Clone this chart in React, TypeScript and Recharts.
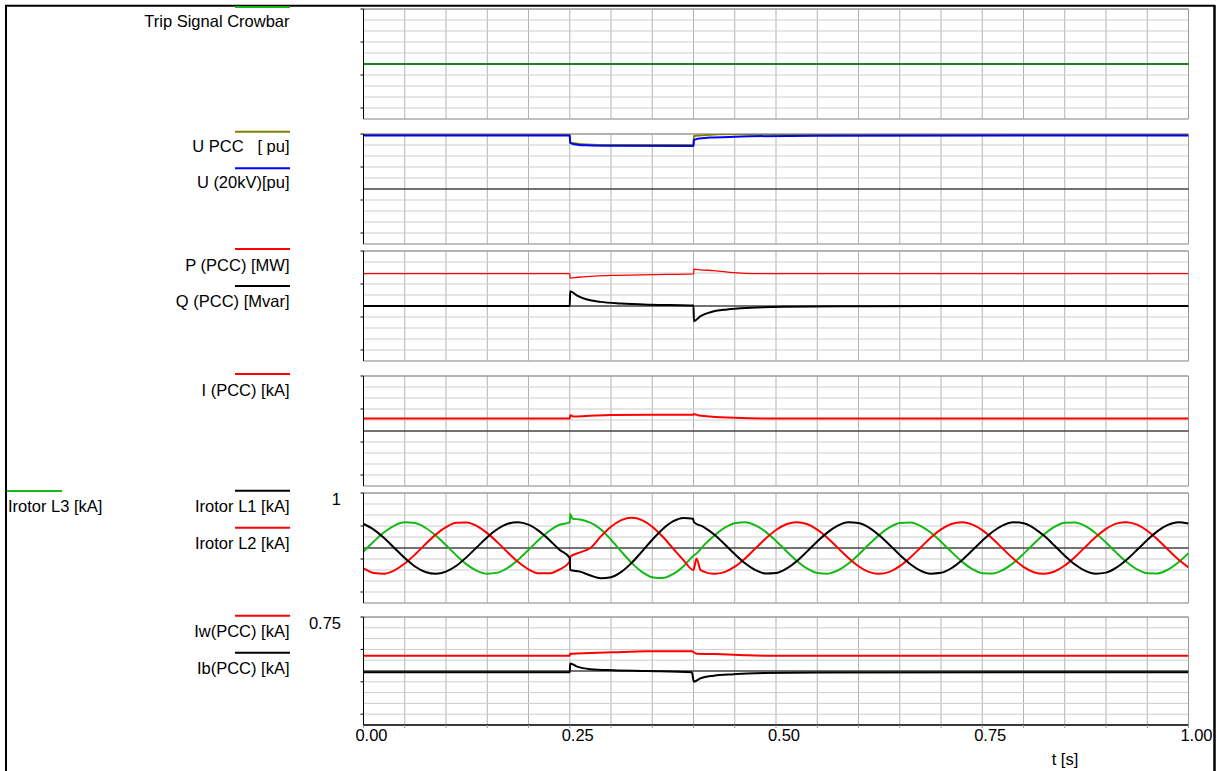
import React from "react";
import { LineChart, Line, XAxis, YAxis, CartesianGrid, ReferenceLine } from "recharts";

const FONT = "'Liberation Sans', Arial, sans-serif";

// time axis
const X_TICKS = [0, 0.05, 0.1, 0.15, 0.2, 0.25, 0.3, 0.35, 0.4, 0.45, 0.5, 0.55, 0.6, 0.65, 0.7, 0.75, 0.8, 0.85, 0.9, 0.95, 1];
const X_LABELS = [0, 0.25, 0.5, 0.75, 1];

// crowbar trip
const TRIP: [number, number][] = [[0, 0], [1, 0]];

// voltages [pu]
const U_PCC: [number, number][] = [
  [0, 1.0], [0.25, 1.0], [0.2505, 0.85], [0.255, 0.83], [0.27, 0.81], [0.3, 0.8], [0.4, 0.8],
  [0.4005, 0.96], [0.41, 0.975], [0.43, 0.995], [0.45, 1.0], [1, 1.0],
];
const U_20KV: [number, number][] = [
  [0, 0.975], [0.25, 0.975], [0.2505, 0.84], [0.255, 0.815], [0.27, 0.795], [0.3, 0.785], [0.4, 0.78],
  [0.4005, 0.89], [0.405, 0.915], [0.42, 0.935], [0.45, 0.95], [0.55, 0.97], [1, 0.975],
];

// power at PCC
const P_PCC: [number, number][] = [
  [0, 2.35], [0.25, 2.35], [0.2505, 2.03], [0.26, 2.09], [0.3, 2.22], [0.35, 2.28], [0.4, 2.33],
  [0.4005, 2.68], [0.4085, 2.63], [0.4246, 2.58], [0.449, 2.43], [0.473, 2.36], [0.5, 2.35], [1, 2.35],
];
const Q_PCC: [number, number][] = [
  [0, 0], [0.25, 0], [0.2505, 1.07], [0.259, 0.76], [0.271, 0.47], [0.287, 0.3], [0.3115, 0.18],
  [0.348, 0.09], [0.395, 0.04], [0.4, 0.03], [0.4005, -1.1], [0.4085, -0.73], [0.4206, -0.45],
  [0.4408, -0.25], [0.469, -0.13], [0.509, -0.06], [0.6, -0.02], [0.7, 0], [1, 0],
];

// current at PCC
const I_PCC: [number, number][] = [
  [0, 0.057], [0.25, 0.057], [0.2505, 0.072], [0.255, 0.066], [0.27, 0.068], [0.3, 0.073], [0.35, 0.074],
  [0.4, 0.074], [0.4005, 0.077], [0.405, 0.072], [0.42, 0.066], [0.45, 0.06], [0.5, 0.057], [1, 0.057],
];

// rotor currents
const PRE_T = [0, 0.0125, 0.025, 0.0375, 0.05, 0.0625, 0.075, 0.0875, 0.1, 0.1125, 0.125, 0.1375, 0.15, 0.1625, 0.175, 0.1875, 0.2, 0.2125, 0.225, 0.2375, 0.25];
const L1_PRE = [0.436, 0.334, 0.18, -0.001, -0.183, -0.336, -0.437, -0.47, -0.43, -0.323, -0.166, 0.016, 0.197, 0.346, 0.442, 0.469, 0.424, 0.312, 0.152, -0.031, -0.18];
const L2_PRE = [-0.37, -0.453, -0.466, -0.406, -0.283, -0.117, 0.068, 0.243, 0.379, 0.457, 0.464, 0.399, 0.271, 0.102, -0.083, -0.255, -0.388, -0.46, -0.461, -0.39, -0.25];
const L3_PRE = [-0.065, 0.12, 0.286, 0.408, 0.466, 0.453, 0.368, 0.227, 0.051, -0.134, -0.298, -0.415, -0.468, -0.448, -0.359, -0.214, -0.036, 0.148, 0.309, 0.422, 0.465];

const L1_FAULT: [number, number][] = [
  [0.2505, -0.4], [0.2625, -0.43], [0.275, -0.5], [0.2875, -0.55], [0.3, -0.53], [0.3125, -0.433], [0.325, -0.27],
  [0.3375, -0.065], [0.35, 0.15], [0.3625, 0.342], [0.375, 0.482], [0.3875, 0.547], [0.3995, 0.53], [0.4005, 0.47],
];
const L2_FAULT: [number, number][] = [
  [0.2505, -0.16], [0.2625, -0.08], [0.275, 0.0], [0.2875, 0.208], [0.3, 0.388], [0.3125, 0.508], [0.325, 0.55],
  [0.3375, 0.508], [0.35, 0.388], [0.3625, 0.208], [0.375, -0.005], [0.3875, -0.216], [0.4, -0.4], [0.4036, -0.19], [0.4085, -0.4],
];
const L3_FAULT: [number, number][] = [
  [0.2505, 0.62], [0.2535, 0.53], [0.2625, 0.52], [0.275, 0.46], [0.2875, 0.342], [0.3, 0.15], [0.3125, -0.065],
  [0.325, -0.27], [0.3375, -0.433], [0.35, -0.53], [0.3625, -0.546], [0.375, -0.477], [0.3875, -0.335], [0.4, -0.141], [0.4036, -0.1],
];

const POST_T = [0.4125, 0.425, 0.4375, 0.45, 0.4625, 0.475, 0.4875, 0.5, 0.5125, 0.525, 0.5375, 0.55, 0.5625, 0.575, 0.5875, 0.6, 0.6125, 0.625, 0.6375, 0.65, 0.6625, 0.675, 0.6875, 0.7, 0.7125, 0.725, 0.7375, 0.75, 0.7625, 0.775, 0.7875, 0.8, 0.8125, 0.825, 0.8375, 0.85, 0.8625, 0.875, 0.8875, 0.9, 0.9125, 0.925, 0.9375, 0.95, 0.9625, 0.975, 0.9875, 1.0];
const L1_POST = [0.381, 0.246, 0.073, -0.111, -0.278, -0.402, -0.465, -0.456, -0.377, -0.24, -0.066, 0.118, 0.284, 0.406, 0.466, 0.454, 0.372, 0.233, 0.059, -0.125, -0.29, -0.41, -0.467, -0.452, -0.368, -0.227, -0.051, 0.132, 0.295, 0.413, 0.468, 0.45, 0.363, 0.221, 0.044, -0.139, -0.301, -0.417, -0.468, -0.448, -0.358, -0.214, -0.037, 0.146, 0.307, 0.42, 0.469, 0.445];
const L2_POST = [-0.429, -0.47, -0.439, -0.34, -0.189, -0.009, 0.172, 0.327, 0.432, 0.47, 0.436, 0.335, 0.183, 0.002, -0.179, -0.332, -0.435, -0.47, -0.433, -0.33, -0.176, 0.005, 0.186, 0.338, 0.437, 0.47, 0.43, 0.324, 0.169, -0.013, -0.193, -0.343, -0.44, -0.47, -0.427, -0.319, -0.162, 0.02, 0.199, 0.348, 0.443, 0.469, 0.424, 0.314, 0.155, -0.028, -0.206, -0.353];
const L3_POST = [0.048, 0.224, 0.366, 0.451, 0.467, 0.412, 0.293, 0.129, -0.055, -0.23, -0.37, -0.453, -0.466, -0.408, -0.287, -0.122, 0.062, 0.237, 0.374, 0.455, 0.465, 0.404, 0.281, 0.115, -0.069, -0.243, -0.379, -0.457, -0.464, -0.4, -0.275, -0.107, 0.077, 0.249, 0.383, 0.458, 0.463, 0.397, 0.269, 0.1, -0.084, -0.255, -0.388, -0.46, -0.462, -0.393, -0.263, -0.093];

// active / reactive current at PCC
const IW_PCC: [number, number][] = [
  [0, 0.212], [0.25, 0.212], [0.2505, 0.24], [0.275, 0.25], [0.303, 0.26], [0.344, 0.273], [0.398, 0.273],
  [0.4035, 0.24], [0.424, 0.236], [0.449, 0.226], [0.465, 0.218], [0.5, 0.212], [1, 0.212],
];
const IB_PCC: [number, number][] = [
  [0, -0.018], [0.25, -0.018], [0.2505, 0.105], [0.259, 0.06], [0.275, 0.025], [0.303, 0.01], [0.344, 0.0],
  [0.398, -0.017], [0.4005, -0.15], [0.4085, -0.1], [0.4246, -0.065], [0.449, -0.045], [0.475, -0.03], [0.55, -0.02], [1, -0.018],
];

const zip = (t: number[], v: number[]): [number, number][] => t.map((x, i) => [x, v[i]]);
const L1 = [...zip(PRE_T, L1_PRE), ...L1_FAULT, ...zip(POST_T, L1_POST)];
const L2 = [...zip(PRE_T, L2_PRE), ...L2_FAULT, ...zip(POST_T, L2_POST)];
const L3 = [...zip(PRE_T, L3_PRE), ...L3_FAULT, ...zip(POST_T, L3_POST)];

const GREEN = "#16b816";
const RED = "#ff0000";
const OLIVE = "#808000";
const BLUE = "#0000ff";

type Series = { pts: [number, number][]; color: string; width: number };

const PLOT_L = 363.5;
const PLOT_R = 1188.5;
const YW = 30;
const M = 6;
const FS = 16.5;

function Panel({ top, h, lo, hi, yLabel, series, xAxis }: { top: number; h: number; lo: number; hi: number; yLabel?: string; series: Series[]; xAxis?: boolean }) {
  const yTicks = Array.from({ length: 11 }, (_, i) => lo + ((hi - lo) * i) / 10);
  const chartH = h + M + (xAxis ? 40 : M);
  const YTick = (p: any) => {
    if (!yLabel || Math.abs(p.payload.value - hi) > 1e-9) return <g />;
    return (
      <text x={341} y={M + 11.5} textAnchor="end" fontSize={FS} fontFamily={FONT} fill="#000">
        {yLabel}
      </text>
    );
  };
  const XTick = (p: any) => {
    const v = p.payload.value;
    if (!X_LABELS.some((l) => Math.abs(l - v) < 1e-9)) return <g />;
    return (
      <text x={p.x + 8} y={M + h + 15.5} textAnchor="middle" fontSize={FS} fontFamily={FONT} fill="#000">
        {v.toFixed(2)}
      </text>
    );
  };
  return (
    <div style={{ position: "absolute", left: 0, top: top - M }}>
      <LineChart width={1223} height={chartH} margin={{ top: M, right: 1223 - PLOT_R, bottom: xAxis ? 10 : M, left: PLOT_L - YW }}>
        <CartesianGrid horizontal={false} stroke="#b3b3b3" />
        <XAxis
          type="number"
          dataKey="t"
          domain={[0, 1]}
          ticks={X_TICKS}
          hide={!xAxis}
          height={xAxis ? 30 : 0}
          axisLine={{ stroke: "#000" }}
          tickLine={{ stroke: "#999" }}
          tickSize={3}
          tick={XTick}
          allowDataOverflow
        />
        <YAxis
          type="number"
          domain={[lo, hi]}
          ticks={yTicks}
          width={YW}
          axisLine={{ stroke: "#000" }}
          tickLine={{ stroke: "#000" }}
          tickSize={3}
          tick={YTick}
          allowDataOverflow
        />
        {yTicks.map((v, i) => (
          <ReferenceLine key={`g${i}`} y={v} stroke="#cdcdcd" />
        ))}
        <ReferenceLine y={hi} stroke="#808080" />
        <ReferenceLine y={lo} stroke={xAxis ? "#000" : "#9a9a9a"} />
        <ReferenceLine x={1} stroke="#9a9a9a" />
        <ReferenceLine y={0} stroke="#000" />
        {series.map((s, i) => (
          <Line
            key={i}
            data={s.pts.map(([t, v]) => ({ t, v }))}
            dataKey="v"
            type="monotone"
            stroke={s.color}
            strokeWidth={s.width}
            dot={false}
            activeDot={false}
            isAnimationActive={false}
          />
        ))}
      </LineChart>
    </div>
  );
}

const LEGEND = [
  { text: "Trip Signal Crowbar", color: GREEN, line: 7, base: 27.3 },
  { text: "U PCC   [ pu]", color: OLIVE, line: 131.7, base: 152.3 },
  { text: "U (20kV)[pu]", color: BLUE, line: 168.3, base: 188.3 },
  { text: "P (PCC) [MW]", color: RED, line: 249, base: 271 },
  { text: "Q (PCC) [Mvar]", color: "#000", line: 286, base: 307.3 },
  { text: "I (PCC) [kA]", color: RED, line: 374, base: 396 },
  { text: "Irotor L1 [kA]", color: "#000", line: 490.7, base: 512.3 },
  { text: "Irotor L2 [kA]", color: RED, line: 527.7, base: 549 },
  { text: "Iw(PCC) [kA]", color: RED, line: 615.7, base: 637.3 },
  { text: "Ib(PCC) [kA]", color: "#000", line: 652.7, base: 674 },
];

export default function App() {
  return (
    <div style={{ position: "absolute", left: 0, top: 0, width: 1223, height: 771, overflow: "hidden", background: "#fff" }}>
      <Panel top={8.5} h={110} lo={-1} hi={1} series={[{ pts: TRIP, color: "#1f7f1f", width: 2 }]} />
      <Panel
        top={133.5}
        h={110}
        lo={-1}
        hi={1}
        series={[
          { pts: U_PCC, color: OLIVE, width: 2 },
          { pts: U_20KV, color: BLUE, width: 2 },
        ]}
      />
      <Panel
        top={250.5}
        h={110}
        lo={-4}
        hi={4}
        series={[
          { pts: P_PCC, color: RED, width: 1.3 },
          { pts: Q_PCC, color: "#000", width: 2 },
        ]}
      />
      <Panel top={375.5} h={110} lo={-0.25} hi={0.25} series={[{ pts: I_PCC, color: RED, width: 2 }]} />
      <Panel
        top={492.5}
        h={110}
        lo={-1}
        hi={1}
        yLabel="1"
        series={[
          { pts: L3, color: GREEN, width: 2 },
          { pts: L2, color: RED, width: 2 },
          { pts: L1, color: "#000", width: 2 },
        ]}
      />
      <Panel
        top={616.5}
        h={108}
        lo={-0.75}
        hi={0.75}
        yLabel="0.75"
        xAxis
        series={[
          { pts: IW_PCC, color: RED, width: 2 },
          { pts: IB_PCC, color: "#000", width: 2 },
        ]}
      />
      <svg width={1223} height={771} style={{ position: "absolute", left: 0, top: 0, pointerEvents: "none" }}>
        <line x1={6} y1={5.7} x2={6} y2={771} stroke="#000" strokeWidth={2} />
        <line x1={5} y1={5.7} x2={1215} y2={5.7} stroke="#000" strokeWidth={2} />
        <line x1={1214.5} y1={5} x2={1214.5} y2={771} stroke="#000" strokeWidth={2.5} />
        {LEGEND.map((l, i) => (
          <g key={i}>
            <line x1={235} x2={290} y1={l.line} y2={l.line} stroke={l.color} strokeWidth={2} />
            <text x={289.5} y={l.base} textAnchor="end" fontSize={FS} fontFamily={FONT} style={{ whiteSpace: "pre" }}>
              {l.text}
            </text>
          </g>
        ))}
        <line x1={7} x2={62} y1={491} y2={491} stroke={GREEN} strokeWidth={2} />
        <text x={8} y={512.3} fontSize={FS} fontFamily={FONT}>
          Irotor L3 [kA]
        </text>
        <text x={1065} y={765} textAnchor="middle" fontSize={FS} fontFamily={FONT}>
          t [s]
        </text>
      </svg>
    </div>
  );
}
